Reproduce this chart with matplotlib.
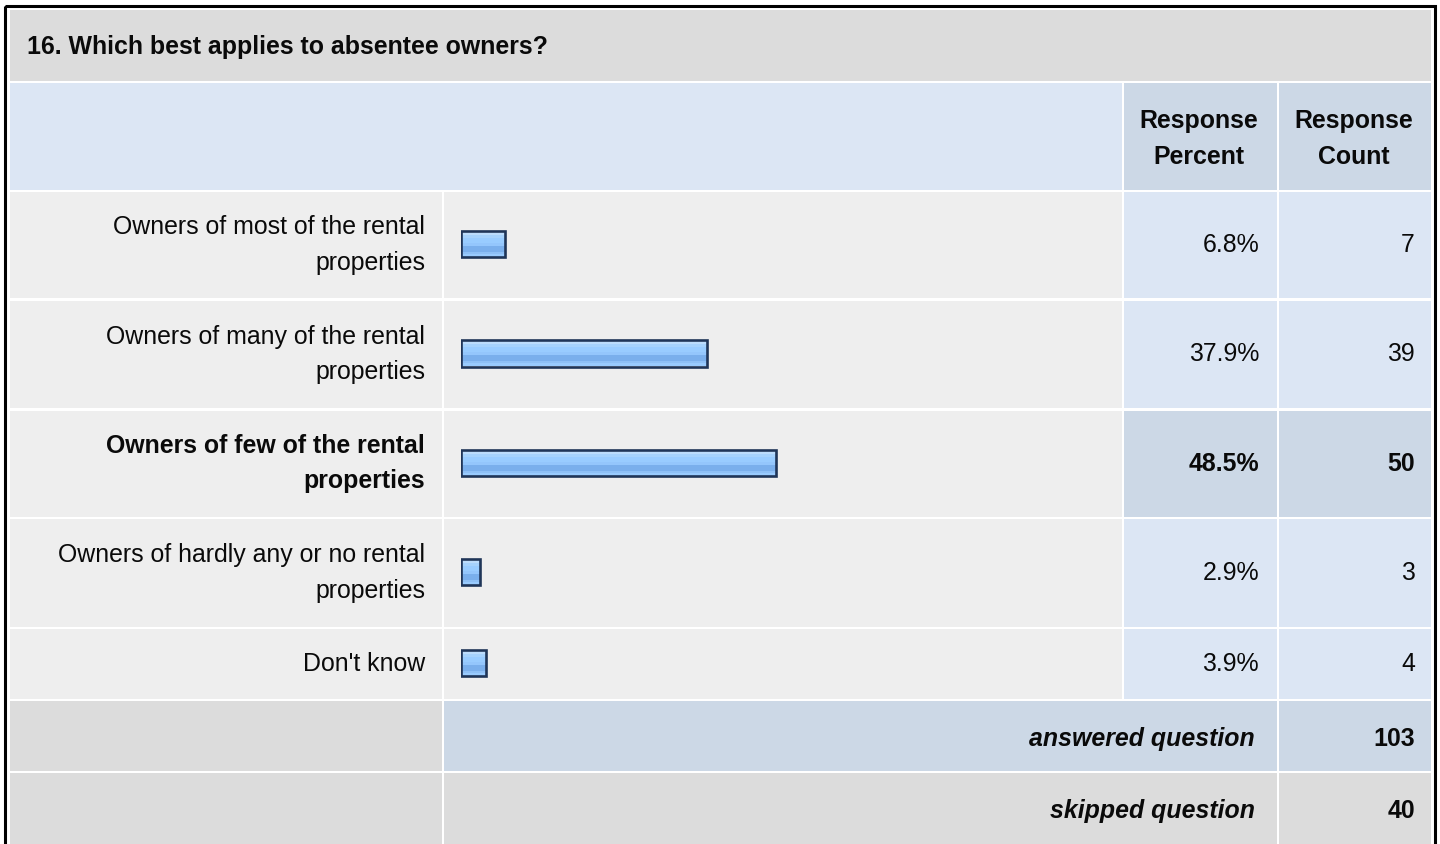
import numpy as np
import matplotlib
matplotlib.use('Agg')
import matplotlib.pyplot as plt
from matplotlib.patches import Rectangle

plt.rcParams['font.family'] = ['Liberation Sans', 'DejaVu Sans']

# Datos de la encuesta
question = '16. Which best applies to absentee owners?'
answers = ['Owners of most of the rental\nproperties',
           'Owners of many of the rental\nproperties',
           'Owners of few of the rental\nproperties',
           'Owners of hardly any or no rental\nproperties',
           "Don't know"]
percents = [6.8, 37.9, 48.5, 2.9, 3.9]
counts = [7, 39, 50, 3, 4]
answered = 103
skipped = 40

# Colores de la tabla
GRIS = '#dcdcdc'
GRIS_CLARO = '#eeeeee'
AZUL_CLARO = '#dce6f4'
AZUL = '#ccd8e6'
BORDE_BARRA = '#1f3558'
TEXTO = '#0a0a0a'

W, H = 1440, 844
fig = plt.figure(figsize=(W / 100, H / 100), dpi=100)
fig.patch.set_facecolor('white')
ax = fig.add_axes([0, 0, 1, 1])
ax.set_xlim(0, W)
ax.set_ylim(H, 0)
ax.axis('off')

fs = 17.9


def celda(x0, x1, y0, y1, color):
    ax.add_patch(Rectangle((x0, y0), x1 - x0, y1 - y0, facecolor=color,
                           edgecolor='none', zorder=1))


# columnas: etiqueta, barra, porcentaje, cantidad
cols = [(10, 441.5), (444, 1121.5), (1124, 1276.5), (1279, 1430.5)]

# fila de titulo
celda(10, 1430.5, 10, 80.5, GRIS)
ax.text(27, 47, question, fontsize=fs, fontweight='bold', color=TEXTO,
        ha='left', va='center')

# encabezado
celda(10, 1121.5, 83, 190, AZUL_CLARO)
celda(*cols[2], 83, 190, AZUL)
celda(*cols[3], 83, 190, AZUL)
ax.text(1199, 139, 'Response\nPercent', fontsize=fs, fontweight='bold',
        color=TEXTO, ha='center', va='center', linespacing=1.6)
ax.text(1354, 139, 'Response\nCount', fontsize=fs, fontweight='bold',
        color=TEXTO, ha='center', va='center', linespacing=1.6)

# filas de respuestas
row_tops = [192, 300.5, 410.5, 519, 629]
row_bots = [298, 408, 517, 627, 698.5]
top_idx = int(np.argmax(counts))
centros = []
for i, (y0, y1) in enumerate(zip(row_tops, row_bots)):
    destacada = i == top_idx
    celda(*cols[0], y0, y1, GRIS_CLARO)
    celda(*cols[1], y0, y1, GRIS_CLARO)
    celda(*cols[2], y0, y1, AZUL if destacada else AZUL_CLARO)
    celda(*cols[3], y0, y1, AZUL if destacada else AZUL_CLARO)
    yc = (y0 + y1) / 2
    centros.append(yc - 1)
    peso = 'bold' if destacada else 'normal'
    ax.text(425, yc, answers[i], fontsize=fs, fontweight=peso, color=TEXTO,
            ha='right', va='center', linespacing=1.6, multialignment='right')
    ax.text(1259, yc, f'{percents[i]:.1f}%', fontsize=fs, fontweight=peso,
            color=TEXTO, ha='right', va='center')
    ax.text(1415, yc, str(counts[i]), fontsize=fs, fontweight=peso,
            color=TEXTO, ha='right', va='center')

# respondidas / omitidas
celda(*cols[0], 701, 770.5, GRIS)
celda(444, 1276.5, 701, 770.5, AZUL)
celda(*cols[3], 701, 770.5, AZUL)
ax.text(1255, 739, 'answered question', fontsize=fs, fontweight='bold',
        fontstyle='italic', color=TEXTO, ha='right', va='center')
ax.text(1415, 739, str(answered), fontsize=fs, fontweight='bold',
        color=TEXTO, ha='right', va='center')

celda(*cols[0], 773, 850, GRIS)
celda(444, 1276.5, 773, 850, GRIS)
celda(*cols[3], 773, 850, GRIS)
ax.text(1255, 811, 'skipped question', fontsize=fs, fontweight='bold',
        fontstyle='italic', color=TEXTO, ha='right', va='center')
ax.text(1415, 811, str(skipped), fontsize=fs, fontweight='bold',
        color=TEXTO, ha='right', va='center')

# borde exterior
ax.add_patch(Rectangle((4.5, 6), 1430, 860, facecolor='none',
                       edgecolor='black', linewidth=2.2, zorder=5))

# barras con degradado
ax_bar = fig.add_axes([461 / W, 0, 650 / W, 1])
ax_bar.axis('off')
alto = 26.5
barras = ax_bar.barh(centros, percents, height=alto, left=0,
                     facecolor='none', edgecolor=BORDE_BARRA,
                     linewidth=1.9, zorder=3)
franjas = ['#d2e8fd', '#bcdcfb', '#a6d2fc', '#99ccff', '#99ccff',
           '#94c6fc', '#7aafec', '#7aafec', '#8ec0f6', '#99cbfe']
grad = np.array([[matplotlib.colors.to_rgb(c)] for c in franjas])
for barra, yc, p in zip(barras, centros, percents):
    im = ax_bar.imshow(grad, extent=[0, p, yc + alto / 2, yc - alto / 2],
                       aspect='auto', interpolation='nearest', zorder=2)
    im.set_clip_path(barra)
ax_bar.set_xlim(0, 100)
ax_bar.set_ylim(H, 0)

fig.savefig('out.png', dpi=100, facecolor='white')
